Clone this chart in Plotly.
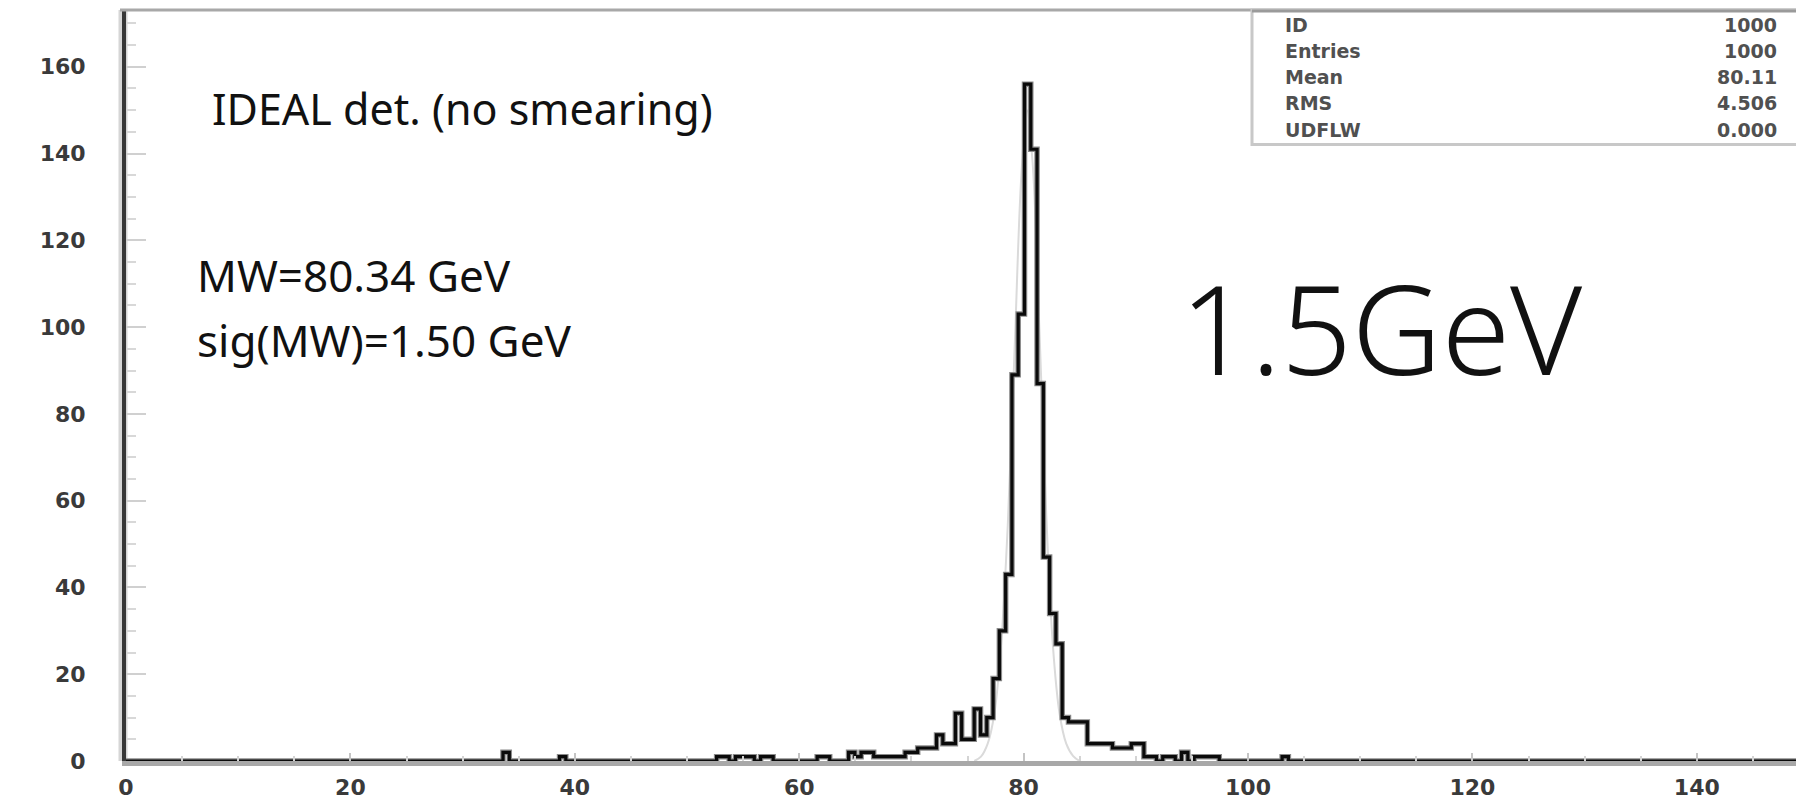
import numpy as np
import plotly.graph_objects as go

# ---------------- data ----------------
BIN_W = 0.56  # GeV per bin
bin_left = [33.60, 38.64, 52.64, 53.20, 54.32, 54.88, 55.44, 56.56, 57.12, 61.60,
            62.16, 64.40, 64.96, 65.52, 66.08, 66.64, 67.20, 67.76, 68.32, 68.88,
            69.44, 70.00, 70.56, 71.12, 71.68, 72.24, 72.80, 73.36, 73.92, 74.48,
            75.04, 75.60, 76.16, 76.72, 77.28, 77.84, 78.40, 78.96, 79.52, 80.08,
            80.64, 81.20, 81.76, 82.32, 82.88, 83.44, 84.00, 84.56, 85.12, 85.68,
            86.24, 86.80, 87.36, 87.92, 88.48, 89.04, 89.60, 90.16, 90.72, 91.28,
            92.40, 92.96, 94.08, 95.20, 95.76, 96.32, 96.88, 103.04]
counts = [2, 1, 1, 1, 1, 1, 1, 1, 1, 1,
          1, 2, 1, 2, 2, 1, 1, 1, 1, 1,
          2, 2, 3, 3, 3, 6, 4, 4, 11, 5,
          5, 12, 6, 10, 19, 30, 43, 89, 103, 156,
          141, 87, 47, 34, 27, 10, 9, 9, 9, 4,
          4, 4, 4, 3, 3, 3, 4, 4, 1, 1,
          1, 1, 2, 1, 1, 1, 1, 1]

# light grey fitted curve
fit_x = [75.6, 76.2, 76.8, 77.4, 78.0, 78.6, 79.2, 79.8, 80.3, 80.8, 81.4, 82.0,
         82.6, 83.2, 83.8, 84.4, 85.0]
fit_y = [0, 1, 4, 11, 27, 55, 95, 135, 150, 138, 100, 58, 27, 11, 4, 1.2, 0]

x_ticks = [0, 20, 40, 60, 80, 100, 120, 140]
y_ticks = [0, 20, 40, 60, 80, 100, 120, 140, 160]

stat_names = ["ID", "Entries", "Mean", "RMS", "UDFLW"]
stat_values = ["1000", "1000", "80.11", "4.506", "0.000"]

text_title = "IDEAL det. (no smearing)"
text_mw = "MW=80.34 GeV"
text_sig = "sig(MW)=1.50 GeV"
text_big = "1.5GeV"

# ---------------- layout geometry ----------------
W, H = 1796, 800
L, R, T, B = 126, 0, 10, 31
PW, PH = W - L - R, H - T - B


def px(x):
    return (x - L) / PW


def py(y):
    return (H - B - y) / PH


# ---------------- histogram outline ----------------
n_bins = int(np.ceil(150 / BIN_W))
dense = np.zeros(n_bins)
for lo, c in zip(bin_left, counts):
    dense[int(round(lo / BIN_W))] = c
edges = np.arange(n_bins + 1) * BIN_W
y_step = np.append(dense, dense[-1])

fig = go.Figure()
fig.add_trace(go.Scatter(x=fit_x, y=fit_y, mode="lines", line=dict(color="#dadada", width=2, shape="spline"),
                         hoverinfo="skip", showlegend=False))
fig.add_trace(go.Scatter(x=edges, y=y_step, mode="lines", line=dict(color="#8a8a8a", width=5.5, shape="hv"),
                         hoverinfo="skip", showlegend=False))
fig.add_trace(go.Scatter(x=edges, y=y_step, mode="lines", line=dict(color="#0a0a0a", width=3.2, shape="hv"),
                         showlegend=False))

tick_font = dict(family="DejaVu Sans", size=22, color="#3a3a3a", weight="bold")

fig.update_layout(
    width=W, height=H,
    margin=dict(l=L, r=R, t=T, b=B, pad=0),
    paper_bgcolor="white", plot_bgcolor="white",
    showlegend=False,
    xaxis=dict(range=[0, PW / 11.22], tickvals=x_ticks, ticktext=[str(v) for v in x_ticks],
               ticks="inside", ticklen=8, tickwidth=2, tickcolor="#c4c4c4",
               minor=dict(dtick=5, tick0=0, ticks="inside", ticklen=5, tickwidth=2, tickcolor="#d4d4d4"),
               showline=True, linecolor="#a8a8a8", linewidth=5,
               showgrid=False, zeroline=False, tickfont=tick_font, ticklabelstandoff=3),
    yaxis=dict(range=[0, PH / 4.385], tickvals=y_ticks, ticktext=[str(v) for v in y_ticks],
               ticks="inside", ticklen=20, tickwidth=2, tickcolor="#d0d0d0",
               minor=dict(dtick=5, tick0=0, ticks="inside", ticklen=10, tickwidth=2, tickcolor="#d8d8d8"),
               showline=True, linecolor="#383838", linewidth=4,
               showgrid=False, zeroline=False, tickfont=tick_font, ticklabelstandoff=32),
)

shapes = []
# light halo of the left axis
shapes.append(dict(type="line", xref="paper", yref="paper", x0=px(123), x1=px(123), y0=0, y1=1,
                   line=dict(color="#d6d6d6", width=9), layer="below"))
# top frame line
shapes.append(dict(type="line", xref="paper", yref="paper", x0=px(120), x1=1.0, y0=py(10), y1=py(10),
                   line=dict(color="#a8a8a8", width=3), layer="above"))
# statistics box
shapes.append(dict(type="rect", xref="paper", yref="paper", x0=px(1252), x1=1.01, y0=py(146), y1=py(10),
                   line=dict(color="#c8c8c8", width=3), fillcolor="white", layer="above"))
shapes.append(dict(type="line", xref="paper", yref="paper", x0=px(1252), x1=1.0, y0=py(11), y1=py(11),
                   line=dict(color="#9a9a9a", width=3), layer="above"))
fig.update_layout(shapes=shapes)

ann = []
stat_font = dict(family="DejaVu Sans", size=19, color="#505050", weight="bold")
row_y = [25, 51, 78, 104, 131]
for name, val, yy in zip(stat_names, stat_values, row_y):
    ann.append(dict(text=name, xref="paper", yref="paper", x=px(1283), y=py(yy), xanchor="left",
                    yanchor="middle", showarrow=False, font=stat_font))
    ann.append(dict(text=val, xref="paper", yref="paper", x=px(1779), y=py(yy), xanchor="right",
                    yanchor="middle", showarrow=False, font=stat_font))

title_font = dict(family="Noto Sans", size=43, color="#111111")
text_font = dict(family="Noto Sans", size=44, color="#111111")
ann.append(dict(text=text_title, xref="paper", yref="paper", x=px(210), y=py(110), xanchor="left",
                yanchor="middle", showarrow=False, font=title_font))
ann.append(dict(text=text_mw, xref="paper", yref="paper", x=px(195), y=py(278), xanchor="left",
                yanchor="middle", showarrow=False, font=text_font))
ann.append(dict(text=text_sig, xref="paper", yref="paper", x=px(195), y=py(344), xanchor="left",
                yanchor="middle", showarrow=False, font=text_font))
ann.append(dict(text=text_big, xref="paper", yref="paper", x=px(1178), y=py(330), xanchor="left",
                yanchor="middle", showarrow=False,
                font=dict(family="Noto Sans", size=124, color="#111111", weight=300)))
fig.update_layout(annotations=ann)

fig.write_html("out.html")
